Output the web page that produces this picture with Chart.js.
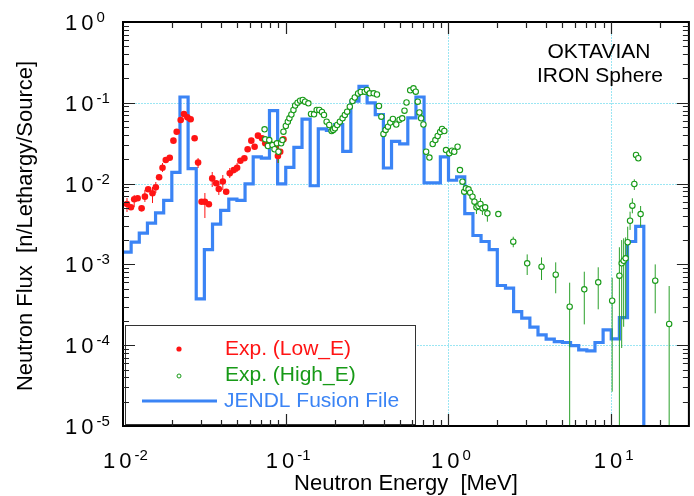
<!DOCTYPE html>
<html>
<head>
<meta charset="utf-8">
<script src="https://cdn.jsdelivr.net/npm/chart.js@4.4.1/dist/chart.umd.min.js"></script>
<style>
  html, body { margin: 0; padding: 0; background: #fff; }
  #wrap { width: 694px; height: 496px; }
</style>
</head>
<body>
<div id="wrap"><canvas id="fluxChart" width="694" height="496"></canvas></div>
<script>
// group boundaries of the calculated spectrum [MeV]
const jendlEdges = [
  0.01, 0.01122, 0.01259, 0.01413, 0.01585, 0.01778, 0.01995, 0.02239, 0.02512, 0.02818,
  0.03162, 0.03548, 0.03981, 0.04467, 0.05012, 0.05623, 0.0631, 0.07079, 0.07943, 0.08913,
  0.1, 0.1122, 0.1259, 0.1413, 0.1585, 0.1778, 0.1995, 0.2239, 0.2512, 0.2818,
  0.3162, 0.3548, 0.3981, 0.4467, 0.5012, 0.5623, 0.631, 0.7079, 0.7943, 0.8913,
  1.0, 1.122, 1.259, 1.413, 1.585, 1.778, 1.995, 2.239, 2.512, 2.818,
  3.162, 3.548, 3.981, 4.467, 5.012, 5.623, 6.31, 7.079, 7.943, 8.913,
  10.0, 11.22, 12.59, 14.13, 15.85
];
// JENDL Fusion File flux per group [n/lethargy/source]
const jendlFlux = [
  1.42e-3, 1.89e-3, 2.44e-3, 3.25e-3, 4.33e-3, 6.19e-3, 1.38e-2, 0.118, 1.53e-2, 3.75e-4,
  1.52e-3, 3.16e-3, 4.65e-3, 6.44e-3, 6.19e-3, 9.9e-3, 2.14e-2, 2.07e-2, 8.0e-2, 9.9e-3,
  1.59e-2, 2.81e-2, 6.27e-2, 9.4e-3, 4.75e-2, 4.56e-2, 5.37e-2, 2.51e-2, 0.1045, 0.160,
  0.0998, 0.0715, 1.56e-2, 3.33e-2, 3.1e-2, 6.5e-2, 0.118, 1.02e-2, 1.02e-2, 2.14e-2,
  1.10e-2, 1.21e-2, 4.24e-3, 2.28e-3, 1.92e-3, 1.52e-3, 5.48e-4, 5.08e-4, 2.61e-4, 2.16e-4,
  1.67e-4, 1.34e-4, 1.19e-4, 1.11e-4, 1.08e-4, 9.9e-5, 8.75e-5, 8.5e-5, 1.08e-4, 1.55e-4,
  1.20e-4, 2.2e-4, 1.92e-3, 2.95e-3
];

// measured spectrum, low energy part
const lowE = [
  0.01058, 0.01119, 0.01172, 0.0123, 0.01301, 0.01363, 0.01428, 0.01518, 0.01591, 0.01667,
  0.01749, 0.01832, 0.01937, 0.02041, 0.02138, 0.02262, 0.02369, 0.02486, 0.02604, 0.02754,
  0.02893, 0.0304, 0.03185, 0.03369, 0.03534, 0.03739, 0.03879, 0.04104, 0.04305, 0.04528,
  0.0479, 0.05024, 0.05264, 0.05569, 0.05834, 0.06144, 0.06437, 0.06753, 0.07144, 0.07483,
  0.07916, 0.08294, 0.08616, 0.0895, 0.09245, 0.09683
];
const lowFlux = [
  5.59e-3, 5.09e-3, 6.39e-3, 6.58e-3, 4.94e-3, 6.89e-3, 8.5e-3, 7.59e-3, 9.0e-3, 1.2e-2,
  1.57e-2, 1.96e-2, 2.09e-2, 3.4e-2, 4.39e-2, 6.12e-2, 7.26e-2, 6.61e-2, 6.25e-2, 3.64e-2,
  1.82e-2, 5.97e-3, 5.97e-3, 5.55e-3, 1.16e-2, 1.01e-2, 8.57e-3, 1.06e-2, 7.94e-3, 1.34e-2,
  1.47e-2, 1.57e-2, 1.92e-2, 2.06e-2, 2.66e-2, 3.4e-2, 2.86e-2, 3.92e-2, 3.64e-2, 3.15e-2,
  3.15e-2, 3.01e-2, 2.81e-2, 2.2e-2, 2.48e-2, 3.53e-2
];
// [energy, lower, upper]
const lowErr = [
  [0.01058, 0.00445, 0.00663], [0.01172, 0.00513, 0.00723], [0.01363, 0.00592, 0.00833],
  [0.01518, 0.00575, 0.00908], [0.01591, 0.00765, 0.01047], [0.01749, 0.01392, 0.018],
  [0.02893, 0.0156, 0.0207], [0.03185, 0.00375, 0.00765], [0.03534, 0.00908, 0.01392],
  [0.03879, 0.00723, 0.00989], [0.04104, 0.00833, 0.01277], [0.04528, 0.01173, 0.0156],
  [0.05024, 0.01392, 0.018], [0.0895, 0.018, 0.026]
];

// measured spectrum, high energy part
const highE = [
  0.0741, 0.0748, 0.0777, 0.0792, 0.0829, 0.0853, 0.0882, 0.0902, 0.0937, 0.0954,
  0.0968, 0.1001, 0.103, 0.1053, 0.1083, 0.1115, 0.1142, 0.1182, 0.1225, 0.1272,
  0.1314, 0.1377, 0.143, 0.1492, 0.1549, 0.1607, 0.1669, 0.1717, 0.1783, 0.185,
  0.1913, 0.1957, 0.2005, 0.207, 0.215, 0.2234, 0.2307, 0.2383, 0.2475, 0.2571,
  0.2655, 0.2782, 0.289, 0.3057, 0.3158, 0.3281, 0.347, 0.3634, 0.3739, 0.3867,
  0.3983, 0.4108, 0.4244, 0.4389, 0.4552, 0.4775, 0.5002, 0.5196, 0.5366, 0.5521,
  0.5815, 0.6093, 0.6292, 0.6471, 0.6628, 0.6788, 0.7015, 0.7287, 0.7634, 0.7996,
  0.8306, 0.8579, 0.8887, 0.9127, 0.9425, 0.9654, 1.011, 1.05, 1.085, 1.137,
  1.176, 1.219, 1.249, 1.279, 1.327, 1.359, 1.404, 1.444, 1.485, 1.528,
  1.571, 1.616, 1.679, 1.734, 2.024, 2.5, 3.045, 3.729, 4.558, 5.553,
  6.829, 8.318, 10.13, 11.22, 11.59, 11.92, 12.26, 12.62, 13.05, 13.48,
  13.86, 14.2, 14.66, 15.15, 18.63, 22.69
];
const highFlux = [
  0.047, 0.0353, 0.0292, 0.0346, 0.03, 0.0266, 0.0315, 0.0248, 0.0315, 0.0346,
  0.0439, 0.0516, 0.0583, 0.0643, 0.0716, 0.0814, 0.0926, 0.1003, 0.1061, 0.1083,
  0.1032, 0.0986, 0.0727, 0.0721, 0.0814, 0.0814, 0.0769, 0.0706, 0.0583, 0.0531,
  0.0448, 0.0461, 0.0484, 0.0531, 0.0583, 0.0643, 0.0706, 0.0776, 0.0894, 0.1053,
  0.1163, 0.1303, 0.136, 0.1372, 0.144, 0.1311, 0.1311, 0.1267, 0.0913, 0.0673,
  0.0411, 0.0461, 0.0506, 0.057, 0.063, 0.0539, 0.0618, 0.0643, 0.0798, 0.1008,
  0.1428, 0.1511, 0.1372, 0.1032, 0.0759, 0.0643, 0.0539, 0.0248, 0.021, 0.0309,
  0.0346, 0.0388, 0.0435, 0.0474, 0.0448, 0.026, 0.0237, 0.0255, 0.0248, 0.0286,
  0.0147, 0.01056, 0.00794, 0.00875, 0.0085, 0.00772, 0.00689, 0.00597, 0.00509, 0.00528,
  0.00559, 0.00495, 0.00509, 0.00429, 0.0042, 0.00191, 0.00103, 0.000936, 0.000746, 0.0003,
  0.000492, 0.0006, 0.000355, 0.000725, 0.00103, 0.00111, 0.00119, 0.00188, 0.00347, 0.00533,
  0.00989, 0.0226, 0.0206, 0.0042, 0.000628, 0.000183
];
const highErr = [
  [0.0902, 0.018, 0.0346], [1.444, 0.00518, 0.00663], [1.485, 0.0042, 0.00627],
  [1.571, 0.00458, 0.00663], [1.616, 0.00409, 0.00575], [1.734, 0.00338, 0.00543],
  [2.5, 0.00163, 0.0022], [3.045, 0.000739, 0.00133], [3.729, 0.000641, 0.00122],
  [4.558, 0.000439, 0.00106], [5.553, 1e-6, 0.000594], [6.829, 0.000181, 0.000812],
  [8.318, 0.000278, 0.000921], [10.13, 2.66e-5, 0.000684], [11.22, 1e-6, 0.00163],
  [11.59, 9.23e-5, 0.002], [11.92, 0.000169, 0.0021], [12.26, 0.000215, 0.00216],
  [12.62, 0.00119, 0.00293], [13.05, 0.00267, 0.00449], [13.48, 0.00429, 0.00658],
  [13.86, 0.00833, 0.0113], [15.15, 0.00293, 0.00528], [18.63, 0.000248, 0.001],
  [22.69, 1e-6, 0.00054]
];

// axes
const xMin = 0.01, xMax = 30;
const yMin = 1e-5, yMax = 1;
const xTickExps = [-2, -1, 0, 1];
const yTickExps = [0, -1, -2, -3, -4, -5];
const xGridLines = [1, 10];
const yGridLines = [0.1, 0.01, 1e-4];

const FONT = '"Liberation Sans", Arial, Helvetica, sans-serif';
const RED = '#ff1414';
const GREEN = '#179a17';
const BLUE = '#3b84f5';

const toPoints = (xs, ys) => xs.map((x, i) => ({ x: x, y: ys[i] }));

// error bars as short vertical segments separated by gaps
function barPoints(bars) {
  const pts = [];
  bars.forEach(([e, lo, hi]) => {
    pts.push({ x: e, y: lo }, { x: e, y: hi }, { x: e, y: null });
  });
  return pts;
}

// histogram: each point sits on the lower group edge, then drops at the last edge
const jendlPoints = toPoints(jendlEdges.slice(0, jendlFlux.length), jendlFlux);
jendlPoints.push({ x: jendlEdges[jendlEdges.length - 1], y: yMin });

function drawPower(ctx, x, baseline, exp, centered) {
  ctx.font = '22px ' + FONT;
  ctx.letterSpacing = '4px';
  const wBase = ctx.measureText('10').width;
  ctx.letterSpacing = '0px';
  ctx.font = '15px ' + FONT;
  const expText = String(exp);
  const wExp = ctx.measureText(expText).width;
  const left = centered ? x - (wBase + wExp) / 2 : x;
  ctx.textAlign = 'left';
  ctx.textBaseline = 'alphabetic';
  ctx.font = '22px ' + FONT;
  ctx.letterSpacing = '4px';
  ctx.fillText('10', left, baseline);
  ctx.letterSpacing = '0px';
  ctx.font = '15px ' + FONT;
  ctx.fillText(expText, left + wBase - 1, baseline - 8);
}

const gridPlugin = {
  id: 'sparseGrid',
  beforeDatasetsDraw(chart) {
    const { ctx, chartArea: a, scales: { x, y } } = chart;
    ctx.save();
    ctx.strokeStyle = '#9be6f3';
    ctx.lineWidth = 1;
    ctx.setLineDash([2, 1]);
    xGridLines.forEach(v => {
      const px = Math.round(x.getPixelForValue(v)) + 0.5;
      ctx.beginPath(); ctx.moveTo(px, a.top); ctx.lineTo(px, a.bottom); ctx.stroke();
    });
    yGridLines.forEach(v => {
      const py = Math.round(y.getPixelForValue(v)) + 0.5;
      ctx.beginPath(); ctx.moveTo(a.left, py); ctx.lineTo(a.right, py); ctx.stroke();
    });
    ctx.restore();
  }
};

const framePlugin = {
  id: 'frameAndLabels',
  afterDraw(chart) {
    const { ctx, chartArea: a, scales: { x, y } } = chart;
    ctx.save();

    // legend box
    const lx = 125.5, ly = 325.5, lw = 290, lh = 99;
    ctx.fillStyle = '#fff';
    ctx.fillRect(lx, ly, lw, lh);
    ctx.strokeStyle = '#333';
    ctx.lineWidth = 1;
    ctx.strokeRect(lx, ly, lw, lh);

    ctx.font = '21px ' + FONT;
    ctx.textAlign = 'left';
    ctx.textBaseline = 'alphabetic';
    ctx.fillStyle = RED;
    ctx.beginPath(); ctx.arc(179, 349, 2.6, 0, Math.PI * 2); ctx.fill();
    ctx.fillText('Exp. (Low_E)', 225, 355);
    ctx.strokeStyle = GREEN;
    ctx.lineWidth = 1;
    ctx.beginPath(); ctx.arc(179, 376, 2, 0, Math.PI * 2); ctx.stroke();
    ctx.fillStyle = GREEN;
    ctx.fillText('Exp. (High_E)', 225, 381);
    ctx.strokeStyle = BLUE;
    ctx.lineWidth = 3;
    ctx.beginPath(); ctx.moveTo(142, 401); ctx.lineTo(217, 401); ctx.stroke();
    ctx.fillStyle = BLUE;
    ctx.fillText('JENDL Fusion File', 224, 407);

    // frame
    ctx.strokeStyle = '#000';
    ctx.lineWidth = 2;
    ctx.strokeRect(a.left, a.top, a.right - a.left, a.bottom - a.top);

    // inward ticks on all four sides
    ctx.lineWidth = 1.2;
    ctx.strokeStyle = '#222';
    for (let e = -2; e <= 1; e++) {
      for (let k = 1; k <= 9; k++) {
        const v = k * Math.pow(10, e);
        if (v <= xMin || v >= xMax) continue;
        const px = Math.round(x.getPixelForValue(v)) + 0.5;
        const len = k === 1 ? 12 : 6;
        ctx.beginPath();
        ctx.moveTo(px, a.bottom); ctx.lineTo(px, a.bottom - len);
        ctx.moveTo(px, a.top); ctx.lineTo(px, a.top + len);
        ctx.stroke();
      }
    }
    for (let e = -5; e <= 0; e++) {
      for (let k = 1; k <= 9; k++) {
        const v = k * Math.pow(10, e);
        if (v <= yMin || v >= yMax) continue;
        const py = Math.round(y.getPixelForValue(v)) + 0.5;
        const len = k === 1 ? 12 : 6;
        ctx.beginPath();
        ctx.moveTo(a.left, py); ctx.lineTo(a.left + len, py);
        ctx.moveTo(a.right, py); ctx.lineTo(a.right - len, py);
        ctx.stroke();
      }
    }

    // tick labels
    ctx.fillStyle = '#000';
    xTickExps.forEach(e => {
      drawPower(ctx, x.getPixelForValue(Math.pow(10, e)) + 3, 468, e, true);
    });
    yTickExps.forEach(e => {
      drawPower(ctx, 65, y.getPixelForValue(Math.pow(10, e)) + 8, e, false);
    });

    // axis titles
    ctx.letterSpacing = '0px';
    ctx.font = '22px ' + FONT;
    ctx.textAlign = 'center';
    ctx.fillText('Neutron Energy  [MeV]', (a.left + a.right) / 2, 490);
    ctx.save();
    ctx.translate(32, 226);
    ctx.rotate(-Math.PI / 2);
    ctx.fillText('Neutron Flux  [n/Lethargy/Source]', 0, 0);
    ctx.restore();

    // experiment label
    ctx.font = '21px ' + FONT;
    ctx.fillText('OKTAVIAN', 599, 58);
    ctx.fillText('IRON Sphere', 600, 82);

    ctx.restore();
  }
};

new Chart(document.getElementById('fluxChart').getContext('2d'), {
  type: 'line',
  data: {
    datasets: [
      {
        label: 'JENDL Fusion File',
        data: jendlPoints,
        stepped: true,
        borderColor: BLUE,
        borderWidth: 3.2,
        pointRadius: 0,
        fill: false,
        order: 4
      },
      {
        label: 'Exp. (Low_E) errors',
        data: barPoints(lowErr),
        borderColor: RED,
        borderWidth: 1,
        pointRadius: 0,
        spanGaps: false,
        order: 3
      },
      {
        label: 'Exp. (High_E) errors',
        data: barPoints(highErr),
        borderColor: '#2aa02a',
        borderWidth: 1,
        pointRadius: 0,
        spanGaps: false,
        order: 2
      },
      {
        label: 'Exp. (Low_E)',
        data: toPoints(lowE, lowFlux),
        showLine: false,
        pointStyle: 'circle',
        pointRadius: 3.3,
        pointBorderWidth: 0,
        pointBackgroundColor: RED,
        borderColor: RED,
        order: 1
      },
      {
        label: 'Exp. (High_E)',
        data: toPoints(highE, highFlux),
        showLine: false,
        pointStyle: 'circle',
        pointRadius: 2.7,
        pointBorderWidth: 1.1,
        pointBackgroundColor: '#fff',
        pointBorderColor: GREEN,
        borderColor: GREEN,
        order: 0
      }
    ]
  },
  options: {
    responsive: false,
    devicePixelRatio: 1,
    animation: false,
    events: [],
    layout: { padding: { left: 123, right: 3, top: 22, bottom: 70 } },
    scales: {
      x: { type: 'logarithmic', min: xMin, max: xMax, display: false },
      y: { type: 'logarithmic', min: yMin, max: yMax, display: false }
    },
    plugins: {
      legend: { display: false },
      tooltip: { enabled: false }
    }
  },
  plugins: [gridPlugin, framePlugin]
});
</script>
</body>
</html>
